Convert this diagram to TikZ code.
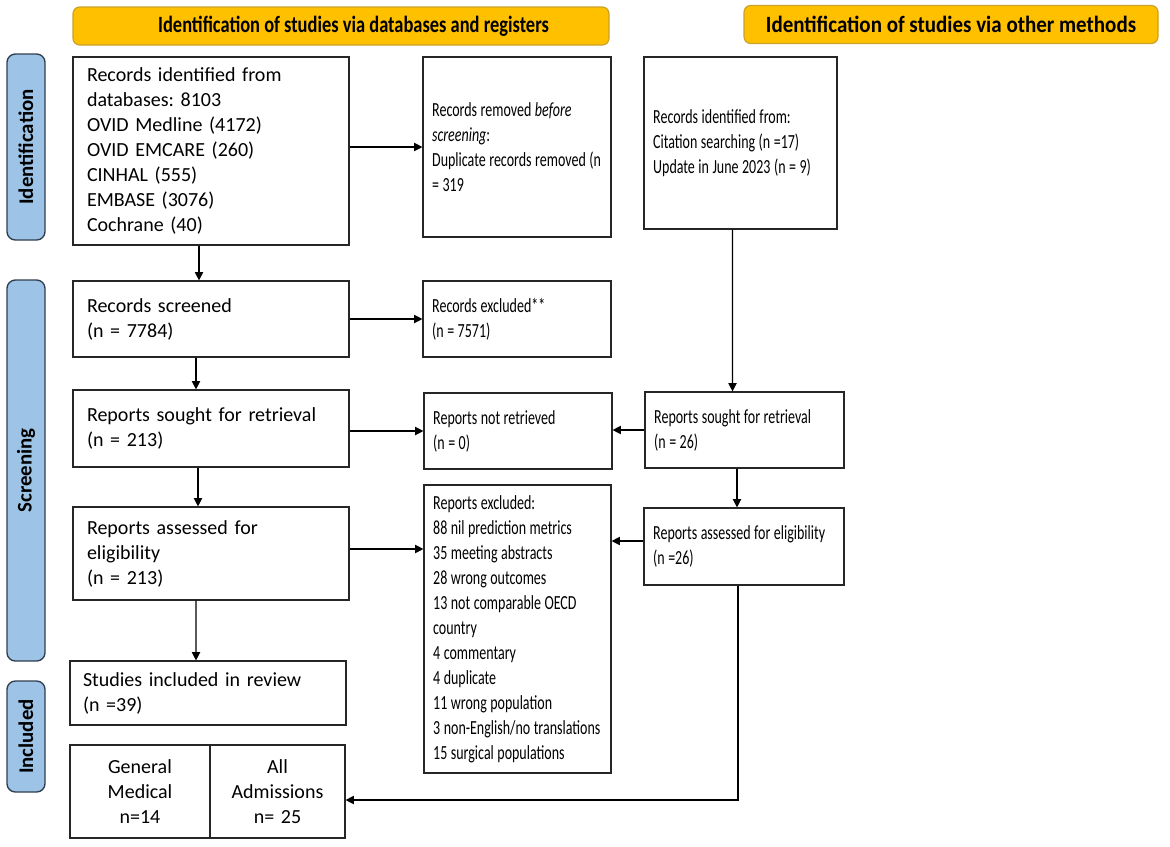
\documentclass[tikz,border=0pt]{standalone}
\usepackage{fontspec}
\setmainfont{Carlito}
\newfontfamily\narrowfont[FakeStretch=0.70]{Carlito}
\newfontfamily\headfont[FakeStretch=0.79]{Carlito}
\newfontfamily\headfontb[FakeStretch=0.9]{Carlito}
\usetikzlibrary{arrows.meta}
\definecolor{headgold}{HTML}{FFC000}
\definecolor{headedge}{HTML}{C9A227}
\definecolor{sideblue}{HTML}{9DC3E6}
\definecolor{sideedge}{HTML}{2F3E4E}
% narrow word spaces
\newcommand\narrowsize{\narrowfont\fontsize{12}{15}\selectfont}
\newcommand\narrowspace{\fontdimen2\font=2.1pt\fontdimen3\font=0pt\spaceskip=2.1pt\xspaceskip=2.1pt\relax}
\frenchspacing

\begin{document}
\begin{tikzpicture}[x=0.6pt,y=-0.6pt]
	\tikzstyle{box} = [draw=black!85, line width=0.7pt, rectangle, align=left, inner xsep=8.4pt, font=\fontsize{12}{15}\selectfont]
	\tikzstyle{nbox} = [box, inner xsep=5.5pt, font=\narrowsize, execute at begin node=\narrowspace]
	\tikzstyle{head} = [draw=headedge, fill=headgold, line width=0.7pt, rounded corners=4pt, minimum height=22.8pt]
	\tikzstyle{side} = [draw=sideedge, fill=sideblue, line width=0.8pt, rounded corners=5pt, rotate=90, minimum height=22.8pt, font=\bfseries\fontsize{12.5}{15}\selectfont]
	\tikzstyle{arr} = [-{Triangle[length=5pt,width=5pt]}, line width=0.7pt]
	\useasboundingbox (0,0) rectangle (1170,846);

		% headers and phases
		\node[head, minimum width=321.6pt, font=\headfont\bfseries\fontsize{14}{15}\selectfont] (hdb) at (341,26) {\hspace{15pt}Identification of studies via databases and registers};
		\node[head, minimum width=248.4pt, font=\headfontb\bfseries\fontsize{14}{15}\selectfont] (hoth) at (951,24.5) {Identification of studies via other methods};
		\node[side, minimum width=111.6pt] (pid) at (26,147) {Identification};
		\node[side, minimum width=228.6pt] (pscr) at (26,470.5) {Screening};
		\node[side, minimum width=66.6pt] (pinc) at (26,736.5) {Included};

		% databases and registers
		\node[box, minimum width=165.6pt, minimum height=112.8pt, text width=148.8pt] (ident) at (211,151)
			{Records identified from\\databases: 8103\\OVID Medline (4172)\\OVID EMCARE (260)\\CINHAL (555)\\EMBASE (3076)\\Cochrane (40)};
		\node[nbox, minimum width=112.8pt, minimum height=108pt, text width=101.8pt] (removed) at (517,147)
			{Records removed \textit{before}\\\textit{screening}:\\Duplicate records removed (n\\= 319};
		\node[box, minimum width=165.6pt, minimum height=45.6pt, text width=148.8pt] (screened) at (211,319)
			{Records screened\\(n = 7784)};
		\node[nbox, minimum width=112.8pt, minimum height=45.6pt, text width=101.8pt] (excl) at (517,319)
			{Records excluded**\\(n = 7571)};
		\node[box, minimum width=165.6pt, minimum height=46.2pt, text width=148.8pt] (sought) at (211,428.5)
			{Reports sought for retrieval\\(n = 213)};
		\node[nbox, minimum width=112.8pt, minimum height=45.6pt, text width=101.8pt] (notret) at (518,431)
			{Reports not retrieved\\(n = 0)};
		\node[box, minimum width=165.6pt, minimum height=55.8pt, text width=148.8pt] (assessed) at (211,553.5)
			{Reports assessed for\\eligibility\\(n = 213)};
		\node[nbox, minimum width=112.2pt, minimum height=172.8pt, text width=101.2pt] (repexcl) at (517.5,629)
			{Reports excluded:\\88 nil prediction metrics\\35 meeting abstracts\\28 wrong outcomes\\13 not comparable OECD\\country\\4 commentary\\4 duplicate\\11 wrong population\\3 non-English/no translations\\15 surgical populations};
		\node[box, minimum width=165.6pt, minimum height=38.4pt, text width=150pt, inner xsep=7.8pt] (included) at (208,693)
			{Studies included in review\\(n =39)};
		\node[box, align=center, minimum width=84pt, minimum height=55.8pt, text width=76pt, inner xsep=4pt] (genmed) at (140,791.5)
			{General\\Medical\\n=14};
		\node[box, align=center, minimum width=81pt, minimum height=55.8pt, text width=73pt, inner xsep=4pt] (alladm) at (277.5,791.5)
			{All\\Admissions\\n= 25};

		% other methods
		\node[nbox, minimum width=115.8pt, minimum height=103.2pt, text width=104.8pt] (otherrec) at (740.5,143)
			{Records identified from:\\Citation searching (n =17)\\Update in June 2023 (n = 9)};
		\node[nbox, minimum width=119.4pt, minimum height=45.6pt, text width=108.4pt] (othsought) at (744.5,430)
			{Reports sought for retrieval\\(n = 26)};
		\node[nbox, minimum width=120pt, minimum height=46.2pt, text width=109pt] (othassess) at (744,546.5)
			{Reports assessed for eligibility\\(n =26)};

		\draw[arr] ([xshift=-7.2pt]ident.south) -- ([xshift=-7.2pt]screened.north);
		\draw[arr] (ident.east |- removed.west) -- (removed.west);
		\draw[arr] (screened) -- (excl);
		\draw[arr] ([xshift=-9pt]screened.south) -- ([xshift=-9pt]sought.north);
		\draw[arr] (sought.east |- notret.west) -- (notret.west);
		\draw[arr] ([xshift=-7.8pt]sought.south) -- ([xshift=-7.8pt]assessed.north);
		\draw[arr] ([yshift=2.7pt]assessed.east) -- ([yshift=2.7pt]assessed.east -| repexcl.west);
		\draw[arr] ([xshift=-9pt]assessed.south) -- ([xshift=-7.2pt]included.north);
		\draw[arr] ([xshift=-4.8pt]otherrec.south) -- ([xshift=-7.2pt]othsought.north);
		\draw[arr] (othsought.west) -- (othsought.west -| notret.east);
		\draw[arr] ([xshift=-4.5pt]othsought.south) -- ([xshift=-4.2pt]othassess.north);
		\draw[arr] ([yshift=3.3pt]othassess.west) -- ([yshift=3.3pt]othassess.west -| repexcl.east);
		\draw[arr] ([xshift=-3.6pt]othassess.south) |- ([yshift=-5.1pt]alladm.east);
	\end{tikzpicture}
\end{document}
